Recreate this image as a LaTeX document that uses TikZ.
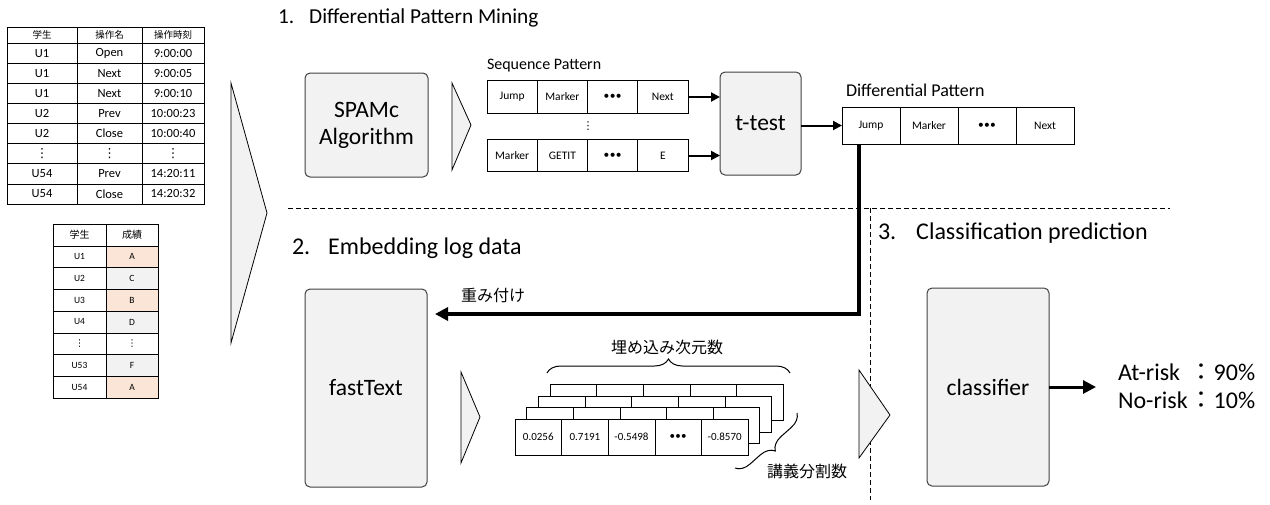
\documentclass[tikz,border=0pt]{standalone}
\usepackage{fontspec}
\setmainfont{Carlito}
\newfontfamily\jp{Noto Sans CJK JP}
\newfontfamily\symfont{DejaVu Sans}
\usetikzlibrary{arrows.meta,decorations.pathreplacing,calc}
\newcommand\fsz[1]{\fontsize{#1}{#1}\selectfont}
\newcommand\vdt{{\symfont ⋮}}
\newcommand\tripledot{\textbullet\kern0.3pt\textbullet\kern0.3pt\textbullet}
\definecolor{boxfill}{HTML}{F2F2F2}
\definecolor{peach}{HTML}{FBE5D6}
\definecolor{edge}{HTML}{404040}
\begin{document}
\begin{tikzpicture}[x=1pt,y=-1pt,
  every node/.style={inner sep=0pt,outer sep=0pt},
  cell/.style={draw=black,line width=0.6pt,fill=white},
  proc/.style={draw=edge,fill=boxfill,rounded corners=5pt,line width=1pt,
               font=\fontsize{23.5}{27}\selectfont,align=center},
  wedge/.style={draw=black,fill=boxfill,line width=0.8pt,line join=miter},
  flow/.style={-{Triangle[length=9pt,width=9pt]},line width=2pt},
  bigflow/.style={-{Triangle[length=13pt,width=13pt]},line width=3pt},
  weightflow/.style={-{Triangle[length=13pt,width=13pt]},line width=4pt},
  divider/.style={dashed,dash pattern=on 5pt off 3pt,line width=0.8pt},
  title/.style={anchor=west,font=\fsz{24}},
  caption/.style={anchor=west},
  jcap/.style={font=\jp\fsz{16}},
  curly/.style={decorate,decoration={brace,amplitude=14pt},line width=1pt}
]
\useasboundingbox (0,0) rectangle (1270,504);

% ---------- operation log table ----------
\tikzset{lh/.style={cell,minimum height=16pt,font=\jp\fsz{9.5}},
         lr/.style={cell,minimum height=20.1pt,font=\fsz{12.5}}}
\node[lh,minimum width=70pt] (lh1) at (42,35) {学生};
\node[lh,minimum width=65pt] (lh2) at (109.5,35) {操作名};
\node[lh,minimum width=62pt] (lh3) at (173,35) {操作時刻};
\foreach \a/\b/\c [count=\i] in {U1/Open/9:00:00,U1/Next/9:00:05,U1/Next/9:00:10,
    U2/Prev/10:00:23,U2/Close/10:00:40,\vdt/\vdt/\vdt,U54/Prev/14:20:11,U54/Close/14:20:32}{
  \pgfmathsetmacro\yy{43+20.125*(\i-0.5)}
  \node[lr,minimum width=70pt] (l\i a) at (42,\yy) {\a};
  \node[lr,minimum width=65pt] (l\i b) at (109.5,\yy) {\b};
  \node[lr,minimum width=62pt] (l\i c) at (173,\yy) {\c};
}

% ---------- grade table ----------
\tikzset{gh/.style={cell,minimum height=22pt,font=\jp\fsz{10}},
         gr/.style={cell,minimum height=21.7pt,font=\fsz{9.5}}}
\node[gh,minimum width=53pt] (gh1) at (79.5,235) {学生};
\node[gh,minimum width=52pt] (gh2) at (132,235) {成績};
\foreach \u/\g/\f [count=\i] in {U1/A/peach,U2/C/boxfill,U3/B/peach,U4/D/boxfill,
    \vdt/\vdt/white,U53/F/boxfill,U54/A/peach}{
  \pgfmathsetmacro\yy{246+21.7*(\i-0.5)}
  \node[gr,minimum width=53pt] (g\i a) at (79.5,\yy) {\u};
  \node[gr,minimum width=52pt,fill=\f] (g\i b) at (132,\yy) {\g};
}

% ---------- input wedge ----------
\draw[wedge] (231,83) -- (267,213) -- (231,343) -- cycle;

% ---------- section dividers ----------
\coordinate (dl) at (288,208);
\coordinate (dr) at (1170,208);
\coordinate (vt) at (870,208);
\coordinate (vb) at (870,500);
\draw[divider] (dl) -- (dr);
\draw[divider] (vt) -- (vb);

% ---------- 1. differential pattern mining ----------
\node[title,font=\fsz{21.3}] (t1) at (278,18) {1.\hspace{15pt}Differential Pattern Mining};
\node[proc,minimum width=123pt,minimum height=104pt] (spamc) at (366.5,125) {SPAMc\\Algorithm};
\draw[wedge] (452,83) -- (471,125) -- (452,170) -- cycle;

\node[caption,font=\fsz{16}] (seqlab) at (487,66) {Sequence Pattern};
\tikzset{sp/.style={cell,minimum width=50.25pt,minimum height=32.5pt,font=\fsz{11.5}}}
\foreach \w [count=\j] in {Jump,Marker,\tripledot,Next}
  \node[sp] (s1\j) at (487+50.25*\j-25.125,97) {\w};
\foreach \w [count=\j] in {Marker,GETIT,\tripledot,E}
  \node[sp] (s2\j) at (487+50.25*\j-25.125,155.5) {\w};
\node[font=\fsz{11}] (sdots) at (588,126) {\vdt};

\node[proc,minimum width=81pt,minimum height=103pt] (ttest) at (760.5,123.5) {t-test};
\draw[flow] (s14.east) -- (s14.east -| ttest.west);
\draw[flow] (s24.east) -- (s24.east -| ttest.west);

\node[caption,font=\fsz{18}] (dplab) at (846,90) {Differential Pattern};
\tikzset{dp/.style={cell,minimum width=58pt,minimum height=37pt,font=\fsz{11.5}}}
\foreach \w [count=\j] in {Jump,Marker,\tripledot,Next}
  \node[dp] (d\j) at (842+58*\j-29,125.5) {\w};
\draw[flow] (ttest.east |- d1.west) -- (d1.west);

% ---------- 2. embedding log data ----------
\node[title] (t2) at (292,248) {2.\hspace{18pt}Embedding log data};
\node[proc,minimum width=122pt,minimum height=198pt] (ft) at (366,388) {fastText};
\coordinate (wt) at (435,314);
\draw[weightflow] ([xshift=-12.5pt]d1.south) |- (wt);
\node[caption,jcap] (wlab) at (461,295) {重み付け};
\draw[wedge] (461,372) -- (480,417) -- (461,463) -- cycle;

% stacked embedding tables, drawn back to front
\tikzset{ev/.style={cell,minimum width=46.6pt,minimum height=36pt,font=\fsz{11}}}
\foreach \k in {3,2,1}
  \foreach \j in {1,...,5}
    \node[ev] (e\k\j) at (515+46.6*\j-23.3+11.7*\k,437-11.5*\k) {};
\foreach \w [count=\j] in {0.0256,0.7191,-0.5498,\tripledot,-0.8570}
  \node[ev] (e0\j) at (515+46.6*\j-23.3,437) {\w};

\coordinate (bl) at (547,373);
\coordinate (br) at (790,373);
\draw[curly] (bl) -- (br);
\node[jcap] (dimlab) at (667,347) {埋め込み次元数};
\coordinate (rt) at (797,413);
\coordinate (rb) at (735,468);
\draw[curly] (rt) -- (rb);
\node[caption,jcap] (seglab) at (767,471) {講義分割数};

% ---------- 3. classification prediction ----------
\draw[wedge] (859,370) -- (890,415) -- (859,458) -- cycle;
\node[title] (t3) at (878,233) {3.\hspace{20pt}Classification prediction};
\node[proc,minimum width=122pt,minimum height=198pt] (clf) at (988,387) {classifier};
\coordinate (out) at (1096,387);
\draw[bigflow] (clf.east) -- (out);
\node[caption,font=\fontsize{24}{28}\selectfont] (res) at (1118,389)
  {\begin{tabular}{@{}l@{\hspace{2pt}}l@{}}At-risk & {\jp ：}90\%\\ No-risk & {\jp ：}10\%\end{tabular}};
\end{tikzpicture}
\end{document}
